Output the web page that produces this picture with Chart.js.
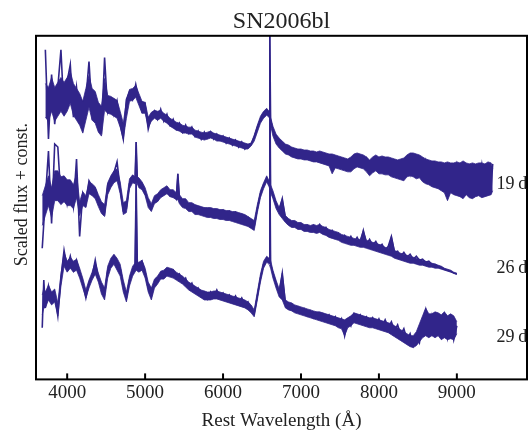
<!DOCTYPE html>
<html>
<head>
<meta charset="utf-8">
<script src="https://cdn.jsdelivr.net/npm/chart.js@4"></script>
<style>
  html, body { margin: 0; padding: 0; background: #fff; }
  canvas { display: block; }
</style>
</head>
<body>
<canvas id="spec" width="529" height="432"></canvas>
<script>
// wavelengths in Angstrom; flux is scaled and offset per epoch.
// flux* = sampled trace, hi*/lo* = upper and lower edge of the noise band
const wave19 = [3720,3760,3800,3840,3880,3920,3960,4000,4040,4080,4120,4160,4200,4240,4280,4320,4360,4400,4440,4480,4520,4560,4600,4640,4680,4720,4760,4800,4840,4880,4920,4960,5000,5040,5080,5120,5160,5200,5240,5280,5320,5360,5400,5440,5480,5520,5560,5600,5640,5680,5720,5760,5800,5840,5880,5920,5960,6000,6040,6080,6120,6160,6200,6240,6280,6320,6360,6400,6440,6480,6520,6560,6590,6600,6610,6640,6680,6720,6760,6800,6840,6880,6920,6960,7000,7040,7080,7120,7160,7200,7240,7280,7320,7360,7400,7440,7480,7520,7560,7600,7640,7680,7720,7760,7800,7840,7880,7920,7960,8000,8040,8080,8120,8160,8200,8240,8280,8320,8360,8400,8440,8480,8520,8560,8600,8640,8680,8720,8760,8800,8840,8880,8920,8960,9000,9040,9080,9120,9160,9200,9240,9280,9320,9360,9400,9440,9460];
const flux19 = [332,242,307,257,294,332,267,300,317,264,294,262,252,282,320,267,284,254,249,324,270,282,267,280,257,242,282,290,282,297,282,270,277,252,264,270,262,272,260,267,256,262,252,258,249,256,248,254,245,250,242,249,243,249,242,247,241,245,238,243,236,241,234,239,232,236,237,244,254,262,268,270,267,346,262,250,242,238,235,232,233,227,230,225,229,224,228,222,227,222,226,220,224,218,223,216,221,215,219,213,218,222,219,224,218,223,217,213,220,214,221,213,219,211,218,210,217,208,216,206,218,210,222,212,221,209,217,204,215,202,214,192,212,199,216,197,214,194,213,192,212,196,216,190,214,194,217];
const hi19 = [298,294,304,294,299,304,299,304,310,298,293,288,280,293,306,293,290,279,275,303,286,285,283,281,270,258,281,292,293,296,288,280,279,264,269,271,270,271,268,266,263,261,259,258,256,255,254,254,251,250,249,248,249,250,248,247,246,245,244,243,242,241,240,239,238,237,238,246,256,265,270,273,270,346,264,255,247,243,240,237,236,234,233,232,232,231,231,230,230,229,230,229,228,227,227,226,225,224,223,222,224,227,228,227,226,224,221,224,226,224,225,224,224,223,222,221,222,223,226,228,228,227,226,224,222,221,220,220,219,219,218,219,218,218,219,218,220,218,217,218,217,218,218,217,219,218,212];
const lo19 = [264,260,270,260,265,270,265,270,278,266,261,256,248,261,274,261,258,249,245,271,268,267,265,263,254,242,263,280,281,284,276,268,268,254,260,263,261,263,260,258,255,253,251,250,248,248,247,247,244,243,242,241,242,243,242,240,240,239,238,237,236,235,234,233,232,232,235,240,249,258,263,266,264,262,256,245,237,233,230,227,226,224,223,222,222,221,221,220,219,219,218,217,216,215,207,213,212,211,210,209,209,212,214,213,212,209,205,208,210,207,207,206,206,204,203,202,201,200,204,205,204,202,203,199,197,196,194,193,192,190,188,180,188,186,185,184,182,186,183,182,184,185,183,184,185,186,190];

const wave26 = [3680,3720,3760,3800,3840,3880,3920,3960,4000,4040,4080,4120,4160,4200,4240,4280,4320,4360,4400,4440,4480,4520,4560,4600,4640,4680,4720,4760,4800,4840,4870,4885,4900,4920,4960,5000,5040,5080,5120,5160,5200,5240,5280,5320,5360,5400,5420,5440,5480,5520,5560,5600,5640,5680,5720,5760,5800,5840,5880,5920,5960,6000,6040,6080,6120,6160,6200,6240,6280,6320,6360,6400,6440,6480,6520,6560,6590,6600,6610,6640,6680,6720,6760,6800,6840,6880,6920,6960,7000,7040,7080,7120,7160,7200,7240,7280,7320,7360,7400,7440,7480,7520,7560,7600,7640,7680,7720,7760,7800,7840,7880,7920,7960,8000,8040,8080,8120,8160,8200,8240,8280,8320,8360,8400,8440,8480,8520,8560,8600,8640,8680,8720,8760,8800,8840,8880,8920,8960,9000];
const flux26 = [132,182,230,157,237,234,182,200,177,194,174,222,144,187,177,200,194,192,182,172,167,196,202,208,219,192,170,172,197,204,200,239,202,196,197,188,178,172,182,180,187,187,192,185,188,182,207,183,176,179,172,176,169,173,167,172,166,171,165,170,164,170,163,169,162,168,161,166,159,163,156,154,172,187,196,202,198,312,192,186,177,170,182,162,159,156,158,153,156,151,155,150,155,150,156,149,153,146,150,143,147,141,145,139,144,138,143,137,150,136,141,135,139,133,136,130,134,144,128,129,124,128,123,126,121,124,120,121,118,119,116,116,114,113,111,110,109,107,106];
const hi26 = [185,195,205,193,210,210,204,205,201,201,196,207,179,189,185,199,197,194,186,179,176,198,205,210,212,199,178,180,202,206,204,239,204,203,199,193,183,177,185,187,191,193,195,191,191,188,207,186,182,182,178,178,176,175,174,173,173,173,172,172,171,171,170,170,169,169,168,167,166,164,162,160,176,190,198,205,200,312,196,190,180,173,182,165,162,160,160,158,158,156,156,155,156,155,156,154,153,151,150,149,148,146,145,144,143,142,141,141,150,140,139,138,137,136,135,133,132,144,130,128,127,126,125,124,123,122,121,120,119,118,117,116,115,114,112,111,110,108,107];
const lo26 = [155,165,175,163,180,180,176,179,175,175,172,183,165,175,173,187,185,182,174,167,164,186,193,198,200,187,166,168,192,198,197,197,197,193,191,185,173,169,177,179,183,185,187,184,183,181,181,177,173,172,169,169,166,166,165,164,163,163,162,162,161,161,160,160,159,158,157,156,155,154,152,150,168,183,192,199,194,192,188,182,172,166,162,158,155,153,153,151,151,149,149,148,148,147,148,146,145,143,142,141,140,138,137,136,135,135,134,133,133,132,131,130,129,128,127,126,125,124,122,121,120,119,118,117,117,116,115,115,114,113,113,112,112,111,110,109,108,107,106];

const wave29 = [3680,3700,3720,3760,3800,3840,3880,3920,3960,4000,4040,4080,4120,4160,4200,4240,4280,4320,4360,4400,4440,4480,4520,4560,4600,4640,4680,4720,4760,4800,4840,4870,4885,4900,4920,4960,5000,5040,5080,5120,5160,5200,5240,5280,5320,5360,5400,5440,5480,5520,5560,5600,5640,5680,5720,5760,5800,5840,5880,5920,5960,6000,6040,6080,6120,6160,6200,6240,6280,6320,6360,6400,6440,6480,6520,6560,6590,6600,6610,6640,6680,6720,6760,6800,6840,6880,6920,6960,7000,7040,7080,7120,7160,7200,7240,7280,7320,7360,7400,7440,7480,7520,7560,7600,7640,7680,7720,7760,7800,7840,7880,7920,7960,8000,8040,8080,8120,8160,8200,8240,8280,8320,8360,8400,8440,8480,8520,8560,8600,8640,8680,8720,8760,8800,8840,8880,8920,8960,9000];
const flux29 = [52,100,72,94,79,85,64,102,130,112,124,110,120,107,97,82,97,104,120,102,92,86,110,118,124,116,112,94,82,100,110,114,197,116,114,119,108,92,84,97,100,106,104,111,107,110,102,106,98,102,93,97,88,92,84,88,81,88,83,90,83,87,81,85,79,84,77,82,75,78,71,66,84,102,116,122,120,232,116,107,96,87,107,76,73,76,69,73,67,71,64,69,62,67,61,66,60,65,58,63,55,61,44,60,54,66,60,65,58,63,56,62,55,61,53,60,52,58,49,55,45,51,40,46,34,44,37,57,70,48,64,46,62,44,64,42,60,40,54];
const hi29 = [85,92,88,95,88,91,77,106,128,119,123,119,121,112,102,90,100,108,118,107,98,92,114,122,126,122,116,100,88,104,114,117,197,118,118,120,112,98,92,101,104,109,110,113,112,111,108,106,104,101,98,96,94,92,90,89,88,88,89,89,88,87,86,85,84,83,82,81,80,78,75,70,88,106,119,124,122,232,120,110,100,91,107,80,78,77,75,74,73,72,71,70,69,68,68,67,66,65,64,63,62,61,60,62,64,67,66,65,64,63,62,62,61,60,59,58,57,56,54,52,50,48,46,44,44,48,56,64,72,66,66,68,67,65,68,64,66,64,58];
const lo29 = [65,72,72,80,75,78,64,94,114,108,112,108,110,102,92,82,92,100,106,98,86,80,102,112,116,110,104,88,78,94,104,108,110,109,108,110,102,88,80,92,96,101,101,104,103,102,100,98,96,93,90,88,86,84,82,80,80,80,81,81,80,79,78,77,76,75,74,73,72,70,67,63,80,98,112,118,116,116,112,102,92,83,80,72,70,69,67,66,65,64,63,62,61,60,59,58,57,56,55,54,52,51,44,52,54,57,56,55,54,53,52,52,51,50,49,48,47,45,43,41,39,37,35,33,32,34,38,42,44,42,44,42,44,40,42,40,41,40,46];

const phases = ['19\u2009d', '26\u2009d', '29\u2009d'];
const phaseFlux = [197, 112, 42];
const phaseWave = 9510;
const tickValues = [4000, 5000, 6000, 7000, 8000, 9000];

const lineColor = '#31258a';
const serif = '"Liberation Serif", "DejaVu Serif", serif';

function points(w, f) {
  return w.map((v, i) => ({ x: v, y: f[i] }));
}

// noise band: upper edge filled down to the lower edge
function band(label, w, hi, lo) {
  return [
    { label: label + ' hi', data: points(w, hi), fill: '+1', backgroundColor: lineColor, borderWidth: 0.8 },
    { label: label + ' lo', data: points(w, lo), fill: false, borderWidth: 0.8 }
  ];
}

const framePlugin = {
  id: 'frame',
  afterDraw(chart) {
    const { ctx, chartArea: a, scales: { x, y } } = chart;
    ctx.save();
    ctx.strokeStyle = '#000';
    ctx.lineWidth = 2;
    ctx.strokeRect(a.left, a.top, a.right - a.left, a.bottom - a.top);
    tickValues.forEach(v => {
      const px = x.getPixelForValue(v);
      ctx.beginPath();
      ctx.moveTo(px, a.bottom);
      ctx.lineTo(px, a.bottom - 6);
      ctx.stroke();
    });
    ctx.fillStyle = '#222';
    ctx.font = '18px ' + serif;
    ctx.textBaseline = 'middle';
    phases.forEach((p, i) => {
      ctx.fillText(p, x.getPixelForValue(phaseWave), y.getPixelForValue(phaseFlux[i]));
    });
    ctx.translate(22, (a.top + a.bottom) / 2 - 13);
    ctx.rotate(-Math.PI / 2);
    ctx.textAlign = 'center';
    ctx.fillText('Scaled flux + const.', 0, 0);
    ctx.restore();
  }
};

new Chart(document.getElementById('spec'), {
  type: 'line',
  data: {
    datasets: [
      ...band('19 d', wave19, hi19, lo19),
      ...band('26 d', wave26, hi26, lo26),
      ...band('29 d', wave29, hi29, lo29),
      { label: '19 d', data: points(wave19, flux19) },
      { label: '26 d', data: points(wave26, flux26) },
      { label: '29 d', data: points(wave29, flux29) }
    ]
  },
  options: {
    responsive: false,
    animation: false,
    layout: { padding: { left: 36, right: 2, top: 0, bottom: 0 } },
    elements: {
      point: { radius: 0 },
      line: { borderWidth: 1.6, borderColor: lineColor, tension: 0 }
    },
    plugins: {
      legend: { display: false },
      tooltip: { enabled: false },
      title: {
        display: true,
        text: 'SN2006bl',
        color: '#222',
        font: { family: serif, size: 24, weight: 'normal' },
        padding: { top: 7, bottom: 0 }
      }
    },
    scales: {
      x: {
        type: 'linear',
        min: 3600,
        max: 9900,
        grid: { display: false, drawTicks: false },
        border: { display: false },
        afterBuildTicks: s => { s.ticks = tickValues.map(v => ({ value: v })); },
        ticks: {
          color: '#222',
          font: { family: serif, size: 19 },
          padding: 2,
          maxRotation: 0,
          autoSkip: false,
          callback: v => String(v)
        },
        title: {
          display: true,
          text: 'Rest Wavelength (Å)',
          color: '#222',
          font: { family: serif, size: 19 },
          padding: { top: 3, bottom: 0 }
        }
      },
      y: { display: false, min: 0, max: 346 }
    }
  },
  plugins: [framePlugin]
});
</script>
</body>
</html>
